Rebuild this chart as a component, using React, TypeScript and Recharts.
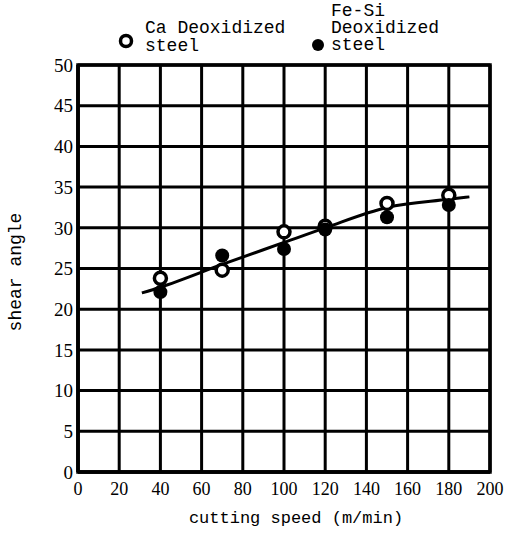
import React from 'react'
import { ComposedChart, Line, Scatter, XAxis, YAxis, CartesianGrid, ReferenceArea } from 'recharts'

// axes
const speedTicks = [0, 20, 40, 60, 80, 100, 120, 140, 160, 180, 200]
const angleTicks = [0, 5, 10, 15, 20, 25, 30, 35, 40, 45, 50]

// Ca deoxidized steel (open circles)
const caSpeed = [40, 70, 100, 120, 150, 180]
const caAngle = [23.8, 24.8, 29.5, 30.2, 33.0, 34.0]

// Fe-Si deoxidized steel (filled circles)
const feSiSpeed = [40, 70, 100, 120, 150, 180]
const feSiAngle = [22.1, 26.6, 27.4, 29.8, 31.3, 32.8]

// hand drawn trend curve
const fitSpeed = [31, 40, 70, 100, 120, 150, 180, 190]
const fitAngle = [22.0, 22.7, 25.5, 28.2, 30.0, 32.5, 33.5, 33.8]

const caData = caSpeed.map((x, i) => ({ x, y: caAngle[i] }))
const feSiData = feSiSpeed.map((x, i) => ({ x, y: feSiAngle[i] }))
const fitData = fitSpeed.map((x, i) => ({ x, y: fitAngle[i] }))

const MONO = '"Liberation Mono", "DejaVu Sans Mono", monospace'
const SERIF = '"Liberation Serif", "DejaVu Serif", serif'

const OpenDot = (props: any) => (
  <circle cx={props.cx} cy={props.cy} r={6} fill="#fff" stroke="#000" strokeWidth={3.5} />
)
const FilledDot = (props: any) => <circle cx={props.cx} cy={props.cy} r={7} fill="#000" />

export default function App() {
  return (
    <div style={{ position: 'absolute', left: 0, top: 0, width: 514, height: 533, background: '#fff' }}>
      <ComposedChart width={514} height={533} margin={{ top: 65, right: 24, bottom: 31, left: 8 }}>
        <CartesianGrid stroke="#000" strokeWidth={3} />
        <XAxis
          type="number"
          dataKey="x"
          domain={[0, 200]}
          ticks={speedTicks}
          tickSize={0}
          tickMargin={10}
          height={30}
          tick={{ fill: '#000', fontFamily: SERIF, fontSize: 18 }}
          axisLine={{ stroke: '#000', strokeWidth: 3.5 }}
          allowDataOverflow
        />
        <YAxis
          type="number"
          dataKey="y"
          domain={[0, 50]}
          ticks={angleTicks}
          tickSize={0}
          tickMargin={5}
          width={70}
          tick={{ fill: '#000', fontFamily: SERIF, fontSize: 19 }}
          axisLine={{ stroke: '#000', strokeWidth: 3.5 }}
          allowDataOverflow
        />
        <ReferenceArea x1={0} x2={200} y1={0} y2={50} fill="none" stroke="#000" strokeWidth={3.5} fillOpacity={0} />
        <Scatter data={caData} dataKey="y" shape={<OpenDot />} isAnimationActive={false} />
        <Scatter data={feSiData} dataKey="y" shape={<FilledDot />} isAnimationActive={false} />
        <Line
          data={fitData}
          dataKey="y"
          type="monotone"
          stroke="#000"
          strokeWidth={3}
          dot={false}
          activeDot={false}
          isAnimationActive={false}
        />
      </ComposedChart>

      {/* legend */}
      <svg style={{ position: 'absolute', left: 0, top: 0 }} width={514} height={62}>
        <circle cx={126} cy={41} r={5.5} fill="#fff" stroke="#000" strokeWidth={3.5} />
        <circle cx={318} cy={45} r={6} fill="#000" />
      </svg>
      <div style={{ position: 'absolute', left: 145, top: 19, fontFamily: MONO, fontSize: 18, lineHeight: '18px', whiteSpace: 'pre' }}>
        {'Ca Deoxidized\nsteel'}
      </div>
      <div style={{ position: 'absolute', left: 331, top: 3, fontFamily: MONO, fontSize: 18, lineHeight: '17px', whiteSpace: 'pre' }}>
        {'Fe-Si\nDeoxidized\nsteel'}
      </div>

      {/* axis titles */}
      <div
        style={{
          position: 'absolute',
          left: 16,
          top: 272,
          transform: 'translate(-50%, -50%) rotate(-90deg)',
          fontFamily: MONO,
          fontSize: 18,
          whiteSpace: 'nowrap',
        }}
      >
        shear angle
      </div>
      <div
        style={{
          position: 'absolute',
          left: 296,
          top: 518,
          transform: 'translate(-50%, -50%)',
          fontFamily: MONO,
          fontSize: 17,
          whiteSpace: 'nowrap',
        }}
      >
        cutting speed (m/min)
      </div>
    </div>
  )
}
